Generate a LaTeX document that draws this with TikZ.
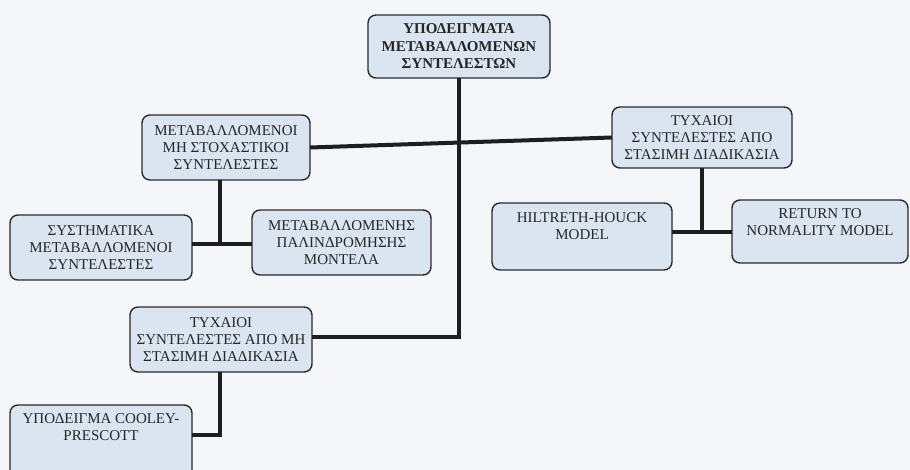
\documentclass[tikz,border=0pt]{standalone}
\usepackage{fontspec}
\setmainfont{Liberation Serif}
\definecolor{bgc}{HTML}{F4F6F9}
\definecolor{boxfill}{HTML}{DAE5F1}
\definecolor{boxline}{HTML}{2A2A2A}
\definecolor{conn}{HTML}{1E1E1E}
\begin{document}
\begin{tikzpicture}[x=1pt,y=-1pt,
  box/.style={draw=boxline, line width=1.4pt, fill=boxfill, rounded corners=8pt,
    inner sep=0pt, outer sep=0pt, align=center, text=black!85,
    font=\fontsize{15}{17}\selectfont},
  txt/.style={inner sep=0pt, align=center, text=black!85,
    font=\fontsize{15}{17}\selectfont},
  link/.style={draw=conn, line width=4pt}]
\clip (0,0) rectangle (910,470);
\fill[bgc] (0,0) rectangle (910,470);
\coordinate (j1) at (220,244);
\coordinate (j2) at (702,232);
\coordinate (j3) at (220,435);
\coordinate (j4) at (460,337);
% boxes
\node[box, minimum width=182pt, minimum height=63pt,
  font=\fontsize{15}{17.5}\selectfont\bfseries] (root) at (459,46.5)
  {ΥΠΟΔΕΙΓΜΑΤΑ\\ΜΕΤΑΒΑΛΛΟΜΕΝΩΝ\\ΣΥΝΤΕΛΕΣΤΩΝ};
\node[box, minimum width=168pt, minimum height=65pt] (A) at (226,147.5)
  {ΜΕΤΑΒΑΛΛΟΜΕΝΟΙ\\ΜΗ ΣΤΟΧΑΣΤΙΚΟΙ\\ΣΥΝΤΕΛΕΣΤΕΣ};
\node[box, minimum width=180pt, minimum height=61pt] (B) at (702,137.5)
  {ΤΥΧΑΙΟΙ\\ΣΥΝΤΕΛΕΣΤΕΣ ΑΠΟ\\ΣΤΑΣΙΜΗ ΔΙΑΔΙΚΑΣΙΑ};
\node[box, minimum width=182pt, minimum height=65pt] (C) at (101,247.5)
  {ΣΥΣΤΗΜΑΤΙΚΑ\\ΜΕΤΑΒΑΛΛΟΜΕΝΟΙ\\ΣΥΝΤΕΛΕΣΤΕΣ};
\node[box, minimum width=179pt, minimum height=65pt] (D) at (341.5,242.5)
  {ΜΕΤΑΒΑΛΛΟΜΕΝΗΣ\\ΠΑΛΙΝΔΡΟΜΗΣΗΣ\\ΜΟΝΤΕΛΑ};
\node[box, minimum width=180pt, minimum height=67pt] (E) at (582,236.5) {};
\node[box, minimum width=176pt, minimum height=63pt] (F) at (820,231.5) {};
\node[box, minimum width=182pt, minimum height=65pt] (T) at (221,339.5)
  {ΤΥΧΑΙΟΙ\\ΣΥΝΤΕΛΕΣΤΕΣ ΑΠΟ ΜΗ\\ΣΤΑΣΙΜΗ ΔΙΑΔΙΚΑΣΙΑ};
\node[box, minimum width=182pt, minimum height=75pt] (G) at (101,442.5) {};
\node[txt, anchor=north] (Et) at ([yshift=-9pt]E.north) {HILTRETH-HOUCK\\MODEL};
\node[txt, anchor=north] (Ft) at ([yshift=-8pt]F.north) {RETURN TO\\NORMALITY MODEL};
\node[txt, anchor=north] (Gt) at ([yshift=-8pt]G.north) {ΥΠΟΔΕΙΓΜΑ COOLEY-\\PRESCOTT};
% connectors
\draw[link] (root.south) -- (root.south |- j4) -- (T.east |- j4);
\draw[link] (A.east) -- (B.west);
\draw[link] (A.south -| j1) -- (j1);
\draw[link] (C.east |- j1) -- (D.west |- j1);
\draw[link] (B.south) -- (j2);
\draw[link] (E.east |- j2) -- (F.west |- j2);
\draw[link] (T.south -| j3) -- (j3) -- (G.east |- j3);
\end{tikzpicture}
\end{document}
